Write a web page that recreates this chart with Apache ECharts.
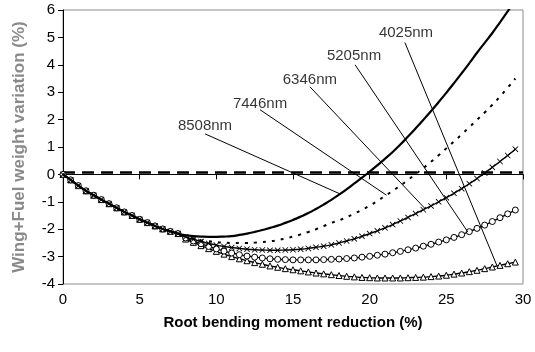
<!DOCTYPE html>
<html>
<head>
<meta charset="utf-8">
<script src="https://cdn.jsdelivr.net/npm/echarts@6/dist/echarts.min.js"></script>
<style>html,body{margin:0;padding:0;background:#fff}#c{width:535px;height:352px}</style>
</head>
<body>
<div id="c"></div>
<script>
// x positions of the computed points (root bending moment reduction, %)
var xs = [0,0.5,1,1.5,2,2.5,3,3.5,4,4.5,5,5.5,6,6.5,7,7.5,
  8,8.5,9,9.5,10,10.5,11,11.5,12,12.5,13,13.5,14,14.5,15,15.5,16,16.5,17,17.5,
  18,18.5,19,19.5,20,20.5,21,21.5,22,22.5,23,23.5,24,24.5,25,25.5,26,26.5,27,27.5,28,28.5,29,29.5];
// shared start of all curves (x = 0 .. 7.5)
var commonStart = [0,-0.2,-0.41,-0.6,-0.76,-0.92,-1.07,-1.22,-1.37,-1.5,-1.64,-1.76,-1.88,-1.99,-2.08,-2.16];
// x = 8 .. 29.5
var s8508 = [-2.22,-2.25,-2.27,-2.28,-2.28,-2.27,-2.25,-2.21,-2.16,-2.1,-2.03,-1.95,-1.87,-1.77,-1.66,-1.54,-1.41,-1.26,-1.1,-0.93,
  -0.74,-0.54,-0.33,-0.12,0.1,0.33,0.57,0.82,1.09,1.38,1.68,1.99,2.31,2.64,2.98,3.33,3.69,4.06,4.44,4.8,5.16,5.55,5.95,6.35];
var s7446 = [-2.26,-2.34,-2.4,-2.44,-2.47,-2.49,-2.5,-2.5,-2.5,-2.49,-2.47,-2.44,-2.4,-2.34,-2.27,-2.19,-2.1,-2.0,-1.89,-1.77,
  -1.68,-1.56,-1.43,-1.29,-1.14,-0.97,-0.79,-0.6,-0.41,-0.2,0.01,0.23,0.46,0.7,0.95,1.2,1.46,1.72,1.99,2.26,2.54,2.84,3.16,3.5];
var s6346 = [-2.28,-2.37,-2.45,-2.52,-2.58,-2.63,-2.67,-2.7,-2.73,-2.75,-2.76,-2.77,-2.77,-2.76,-2.75,-2.73,-2.7,-2.66,-2.62,-2.57,
  -2.5,-2.43,-2.35,-2.26,-2.16,-2.06,-1.95,-1.83,-1.7,-1.57,-1.43,-1.29,-1.15,-1.0,-0.85,-0.69,-0.52,-0.34,-0.15,0.05,0.26,0.47,0.69,0.92];
var s5205 = [-2.32,-2.43,-2.53,-2.63,-2.72,-2.8,-2.87,-2.93,-2.98,-3.02,-3.05,-3.08,-3.1,-3.11,-3.12,-3.12,-3.12,-3.12,-3.11,-3.1,
  -3.09,-3.07,-3.05,-3.02,-2.99,-2.95,-2.91,-2.86,-2.81,-2.75,-2.69,-2.62,-2.55,-2.47,-2.39,-2.3,-2.2,-2.09,-1.97,-1.85,-1.72,-1.58,-1.44,-1.3];
var s4025 = [-2.36,-2.48,-2.6,-2.71,-2.81,-2.91,-3.0,-3.08,-3.15,-3.22,-3.28,-3.34,-3.39,-3.44,-3.48,-3.52,-3.56,-3.6,-3.63,-3.66,
  -3.69,-3.72,-3.74,-3.76,-3.77,-3.78,-3.78,-3.78,-3.78,-3.77,-3.76,-3.75,-3.73,-3.71,-3.68,-3.64,-3.6,-3.55,-3.5,-3.44,-3.38,-3.32,-3.26,-3.2];
// reference line level
var refLevel = 0.07;
// annotation labels, their anchor (data coords) and leader line start / end (data coords)
var labelNames = ['4025nm','5205nm','6346nm','7446nm','8508nm'];
var labelAt = [[22.37,5.18],[18.98,4.34],[16.1,3.46],[12.85,2.58],[9.26,1.78]];
var leaderStart = [[22.3,4.81],[19.05,4.0],[16.1,3.2],[12.85,2.36],[9.26,1.48]];
var leaderEnd = [[28.3,-3.33],[26.4,-2.1],[23.6,-1.24],[21.1,-0.76],[18.1,-0.72]];
var xTicks = [0,5,10,15,20,25,30];

function pts(tail){
  var ys = commonStart.concat(tail);
  return xs.map(function(x,i){return [x, ys[i]];});
}
var FONT = 'Arial, "Liberation Sans", sans-serif';
var crossPath = 'path://M0,1L1,0L5,4L9,0L10,1L6,5L10,9L9,10L5,6L1,10L0,9L4,5Z';

var series = [
  {type:'line', data:[[xTicks[0],refLevel],[xTicks[xTicks.length-1],refLevel]], symbol:'none', silent:true,
   lineStyle:{color:'#000', width:2.5, type:[12,7]}, z:1},
  {type:'line', name:'4025nm', data:pts(s4025), symbol:'triangle', symbolSize:6, smooth:true,
   lineStyle:{color:'#000', width:1.4}, itemStyle:{color:'#fff', borderColor:'#000', borderWidth:1}, z:2},
  {type:'line', name:'5205nm', data:pts(s5205), symbol:'circle', symbolSize:6, smooth:true,
   lineStyle:{color:'#000', width:1.4}, itemStyle:{color:'#fff', borderColor:'#000', borderWidth:1}, z:3},
  {type:'line', name:'6346nm', data:pts(s6346), symbol:crossPath, symbolSize:6, smooth:true,
   lineStyle:{color:'#000', width:1.4}, itemStyle:{color:'#000'}, z:4},
  {type:'line', name:'7446nm', data:pts(s7446), symbol:'none', smooth:true,
   lineStyle:{color:'#000', width:2, type:[3,6]}, z:5},
  {type:'line', name:'8508nm', data:pts(s8508), symbol:'none', smooth:true,
   lineStyle:{color:'#000', width:2.2}, z:6}
];
labelNames.forEach(function(n,i){
  series.push({type:'line', data:[leaderStart[i], leaderEnd[i]], symbol:'none', silent:true,
    lineStyle:{color:'#000', width:1}, z:7});
});
series.push({type:'scatter', silent:true, symbolSize:1, itemStyle:{color:'rgba(0,0,0,0)'},
  data: labelNames.map(function(n,i){return {name:n, value:labelAt[i]};}),
  label:{show:true, position:'inside', formatter:'{b}', color:'#000', fontSize:15, fontFamily:FONT}, z:8});

var chart = echarts.init(document.getElementById('c'), null, {renderer:'canvas'});
chart.setOption({
  animation:false,
  backgroundColor:'#fff',
  grid:{left:63, right:12, top:10, bottom:68, show:true, borderColor:'#8c8c8c', borderWidth:1, backgroundColor:'transparent'},
  xAxis:{type:'value', min:0, max:30, interval:5,
    name:'Root bending moment reduction (%)', nameLocation:'middle', nameGap:31,
    nameTextStyle:{fontFamily:FONT, fontSize:15, fontWeight:'bold', color:'#000'},
    axisLine:{show:true, lineStyle:{color:'#000', width:1}},
    axisTick:{show:true, inside:false, length:5, lineStyle:{color:'#000'}},
    axisLabel:{margin:8, fontFamily:FONT, fontSize:15, color:'#000'},
    splitLine:{show:false}},
  yAxis:{type:'value', min:-4, max:6, interval:1,
    name:'Wing+Fuel weight variation (%)', nameLocation:'middle', nameGap:35, nameRotate:90,
    nameTextStyle:{fontFamily:FONT, fontSize:17, fontWeight:'bold', color:'#8a8a8a'},
    axisLine:{show:true, onZero:false, lineStyle:{color:'#000', width:1}},
    axisTick:{show:true, inside:false, length:5, lineStyle:{color:'#000'}},
    axisLabel:{margin:8, fontFamily:FONT, fontSize:15, color:'#000'},
    splitLine:{show:false}},
  series:series
});
</script>
</body>
</html>
